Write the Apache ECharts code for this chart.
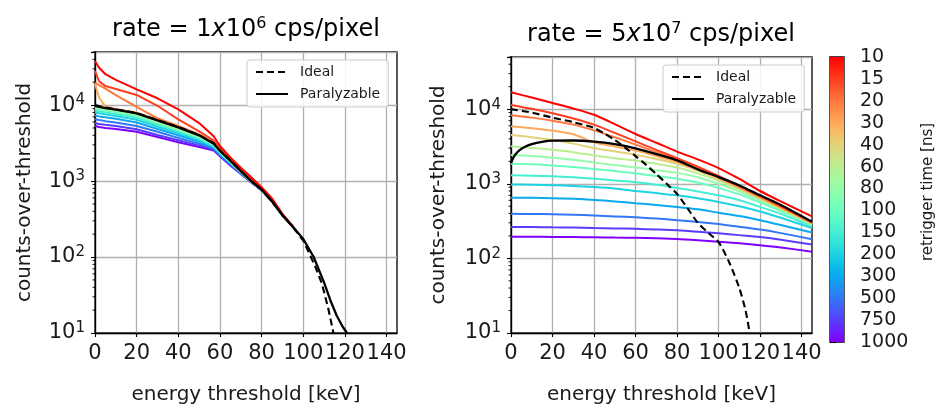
<!DOCTYPE html>
<html><head><meta charset="utf-8">
<script src="https://cdn.jsdelivr.net/npm/echarts@6/dist/echarts.min.js"></script>
<style>html,body{margin:0;padding:0;background:#fff}#c{width:936px;height:410px}</style>
</head><body><div id="c"></div>
<script>
// ---------------- data ----------------
const retriggerTimes = [10, 15, 20, 30, 40, 60, 80, 100, 150, 200, 300, 500, 750, 1000]; // ns, colorbar labels
const xTicks = [0, 20, 40, 60, 80, 100, 120, 140];
const yTickExps = [1, 2, 3, 4];

// rate = 1x10^6 cps/pixel
const energyLow = [0, 2, 5, 10, 20, 30, 40, 50, 57, 60, 65, 70, 75, 80, 85, 90, 95];
const low10   = [37800,31000,25500,21500,16100,12300,8800,5800,3900,2900,2050,1500,1120,830,590,370,255];
const low15   = [28000,20500,17800,16300,13600,9800,6500,4500,3400,2700,1950,1420,1050,800,560,362,252];
const low20   = [19600,18300,16500,13500,9500,6700,5300,4100,3200,2560,1880,1370,1010,775,545,357,250];
const low30   = [19000,12500,9600,8900,7950,6400,5150,4050,3150,2530,1860,1360,1005,772,542,356,250];
const low40   = [9900,9600,9200,8750,7850,6300,5100,4000,3120,2510,1850,1350,1000,770,540,355,250];
const low60   = [9600,9350,9000,8600,7700,6200,5000,3950,3100,2480,1840,1345,998,770,540,355,250];
const low80   = [9300,9050,8750,8350,7450,6000,4850,3850,3050,2450,1820,1340,995,770,540,355,250];
const low100  = [9000,8750,8450,8100,7200,5800,4700,3750,3000,2420,1800,1330,990,768,540,355,250];
const low150  = [8500,8300,8000,7650,6800,5500,4500,3600,2920,2380,1770,1315,985,766,540,355,250];
const low200  = [8000,7800,7550,7200,6400,5200,4300,3450,2850,2330,1740,1300,980,765,540,355,250];
const low300  = [7300,7100,6900,6600,5900,4850,4000,3300,2770,2270,1710,1285,975,763,540,355,250];
const low500  = [6500,6350,6150,5900,5300,4450,3700,3100,2680,2210,1670,1270,970,760,540,355,250];
const low750  = [5800,5650,5500,5300,4800,4050,3450,2950,2600,2160,1630,1255,965,758,540,355,250];
const low1000 = [5300,5150,5000,4850,4450,3800,3250,2800,2520,2120,1600,1240,960,755,540,355,250];
const lowIdealX = [0,2,5,10,20,30,40,50,57,60,65,70,75,80,85,90,95,100,103,106,109,112,114.5];
const lowIdeal  = [10000,9700,9300,8800,7900,6350,5150,4050,3150,2530,1860,1355,1000,770,540,355,248,165,110,72,44,21,10];
const lowParX = [0,2,5,10,20,30,40,50,57,60,65,70,75,80,85,90,95,100,105,110,113,116,119,121];
const lowPar  = [9800,9500,9100,8700,7800,6300,5100,4000,3100,2500,1850,1350,1000,770,540,355,250,173,100,46,27,17,12,10];

// rate = 5x10^7 cps/pixel
const energyHigh = [0, 10, 20, 30, 40, 50, 60, 70, 80, 90, 100, 110, 120, 130, 145];
const high10   = [16800,14300,12100,10200,8400,6300,4650,3550,2700,2120,1620,1160,800,580,365];
const high15   = [11400,10100,8800,7500,6200,4800,3700,2850,2200,1700,1270,940,690,500,305];
const high20   = [8300,7700,7000,6200,5200,4200,3350,2650,2100,1620,1230,910,670,490,300];
const high30   = [5900,5550,5150,4600,3600,3150,2780,2350,1950,1540,1190,890,655,480,297];
const high40   = [4500,4200,3850,3450,3000,2720,2450,2150,1850,1500,1160,870,645,472,295];
const high60   = [3180,3020,2850,2650,2400,2200,2050,1850,1650,1380,1100,840,625,462,290];
const high80   = [2430,2350,2240,2100,1920,1780,1650,1520,1400,1220,1000,790,600,450,285];
const high100  = [1860,1820,1760,1680,1580,1480,1380,1270,1170,1040,880,720,560,430,278];
const high150  = [1300,1285,1260,1220,1170,1110,1050,970,880,790,700,600,490,395,268];
const high200  = [980,970,955,935,905,865,800,750,700,640,570,500,425,350,255];
const high300  = [652,648,640,628,608,580,548,520,490,455,410,370,325,280,222];
const high500  = [395,394,391,385,375,365,355,342,325,308,288,265,243,218,181];
const high750  = [263,263,261,259,255,252,249,244,238,228,217,205,193,178,153];
const high1000 = [195,195,194,193,192,190,189,186,182,175,167,159,150,140,123];
const highIdealX = [0,10,20,30,40,45,50,55,60,65,70,75,80,85,90,95,100,105,110,113,115];
const highIdeal  = [10000,9000,7700,6700,5600,4700,3850,3050,2350,1800,1350,1000,730,470,300,220,165,90,40,20,10];
const highParX = [0,1,2,4,7,10,15,20,30,40,50,60,70,80,90,100,110,120,130,145];
const highPar  = [1900,2200,2450,2800,3150,3400,3650,3780,3800,3680,3400,2980,2500,2060,1560,1230,950,700,520,310];

const lowSets  = [low10,low15,low20,low30,low40,low60,low80,low100,low150,low200,low300,low500,low750,low1000];
const highSets = [high10,high15,high20,high30,high40,high60,high80,high100,high150,high200,high300,high500,high750,high1000];

// ---------------- styling helpers ----------------
const FF = 'DejaVu Sans';
const TXT = '#1a1a1a';
function rainbow(t) {
  const r = Math.min(1, Math.abs(2 * t - 0.5));
  const g = Math.max(0, Math.sin(Math.PI * t));
  const b = Math.max(0, Math.cos(Math.PI * t / 2));
  return 'rgb(' + Math.round(r * 255) + ',' + Math.round(g * 255) + ',' + Math.round(b * 255) + ')';
}
function lineColor(i) { return rainbow(1 - i / (retriggerTimes.length - 1)); }

const minorVals = [];
[10, 100, 1000, 10000].forEach(d => { for (let m = 2; m <= 9; m++) { if (m * d <= 50000) minorVals.push(m * d); } });

const gridDefs = [
  { left: 95, top: 52, width: 302, height: 287 },
  { left: 511, top: 57, width: 301, height: 285 },
  { left: 830, top: 57, width: 14, height: 285 }
];

function xAxisFor(idx) {
  return {
    type: 'value', gridIndex: idx, min: 0, max: 145, interval: 20,
    name: 'energy threshold [keV]', nameLocation: 'middle', nameGap: 52,
    nameTextStyle: { fontSize: 20, color: TXT, fontFamily: FF },
    axisLine: { show: true, lineStyle: { color: '#000', width: 1.3 } },
    axisTick: { show: true, inside: false, length: 4, lineStyle: { color: '#000', width: 1.1 }, customValues: xTicks },
    axisLabel: { show: true, margin: 10, fontSize: 21, color: TXT, fontFamily: FF, customValues: xTicks,
      formatter: v => (xTicks.indexOf(v) >= 0 ? String(v) : '') },
    splitLine: { show: true, lineStyle: { color: '#b0b0b0', width: 1.3 } }
  };
}
function yAxisFor(idx, gap) {
  return {
    type: 'log', logBase: 10, gridIndex: idx, min: 10, max: 50000,
    name: 'counts-over-threshold', nameLocation: 'middle', nameRotate: 90, nameGap: gap,
    nameTextStyle: { fontSize: 20, color: TXT, fontFamily: FF },
    axisLine: { show: true, lineStyle: { color: '#000', width: 1.3 } },
    axisTick: { show: true, inside: false, length: 4, lineStyle: { color: '#000', width: 1.1 } },
    axisLabel: {
      show: true, margin: 10, fontFamily: FF, color: TXT,
      formatter: function (v) {
        const l = Math.log10(v), e = Math.round(l);
        if (Math.abs(l - e) > 1e-6 || yTickExps.indexOf(e) < 0) return '';
        return '{b|10}{s|' + e + '}';
      },
      rich: { b: { fontSize: 21, fontFamily: FF, color: TXT }, s: { fontSize: 15, fontFamily: FF, color: TXT, padding: [0, 0, 9, 0] } }
    },
    splitLine: { show: true, lineStyle: { color: '#b0b0b0', width: 1.3 } },
    minorTick: { show: false }
  };
}

const series = [];
function addPlot(gi, xs, sets, idealX, ideal, parX, par, smooth) {
  sets.forEach((arr, i) => {
    series.push({
      type: 'line', name: 'r' + retriggerTimes[i], xAxisIndex: gi, yAxisIndex: gi,
      data: xs.map((x, j) => [x, arr[j]]), symbol: 'none', smooth: smooth, silent: true,
      lineStyle: { color: lineColor(i), width: 2 }, z: 2 + (sets.length - i) * 0.01
    });
  });
  series.push({
    type: 'line', name: 'Ideal', xAxisIndex: gi, yAxisIndex: gi,
    data: idealX.map((x, j) => [x, ideal[j]]), symbol: 'none', smooth: smooth, silent: true,
    itemStyle: { color: '#000' },
    lineStyle: { color: '#000', width: 2.1, type: [7, 4] }, z: 4
  });
  series.push({
    type: 'line', name: 'Paralyzable', xAxisIndex: gi, yAxisIndex: gi,
    data: parX.map((x, j) => [x, par[j]]), symbol: 'none', smooth: smooth, silent: true,
    itemStyle: { color: '#000' },
    lineStyle: { color: '#000', width: 2.3 }, z: 5
  });
  series.push({
    type: 'custom', xAxisIndex: gi, yAxisIndex: gi, silent: true, z: 6,
    data: minorVals.map(v => [0, v]),
    renderItem: function (params, api) {
      const p = api.coord([api.value(0), api.value(1)]);
      return { type: 'line', shape: { x1: p[0] - 2.5, y1: p[1], x2: p[0], y2: p[1] }, style: { stroke: '#000', lineWidth: 0.9 } };
    }
  });
}
addPlot(0, energyLow, lowSets, lowIdealX, lowIdeal, lowParX, lowPar, false);
addPlot(1, energyHigh, highSets, highIdealX, highIdeal, highParX, highPar, 0.25);

// colorbar
const stops = [];
for (let k = 0; k <= 26; k++) stops.push({ offset: k / 26, color: rainbow(1 - k / 26) });
series.push({
  type: 'custom', xAxisIndex: 2, yAxisIndex: 2, silent: true, data: [[0, 0]],
  renderItem: function (params, api) {
    const p0 = api.coord([0, 0]), p1 = api.coord([1, retriggerTimes.length - 1]);
    return { type: 'rect', shape: { x: Math.min(p0[0], p1[0]), y: Math.min(p0[1], p1[1]), width: Math.abs(p1[0] - p0[0]), height: Math.abs(p1[1] - p0[1]) },
      style: { fill: new echarts.graphic.LinearGradient(0, 0, 0, 1, stops) } };
  }
});

function legendFor(left, top) {
  return {
    show: true, data: ['Ideal', 'Paralyzable'], orient: 'vertical', left: left, top: top,
    itemWidth: 32, itemHeight: 14, itemGap: 8, padding: [5, 8, 6, 8],
    backgroundColor: 'rgba(255,255,255,0.85)', borderColor: '#cccccc', borderWidth: 1, borderRadius: 3,
    itemStyle: { opacity: 0 },
    textStyle: { fontSize: 14, fontFamily: FF, color: TXT, padding: [0, 0, 0, 7] },
    selectedMode: false
  };
}

const titleRich = {
  n: { fontSize: 24, fontFamily: FF, color: TXT },
  i: { fontSize: 24, fontFamily: FF, fontStyle: 'italic', color: TXT },
  s: { fontSize: 16, fontFamily: FF, color: TXT, padding: [0, 0, 12, 0] }
};

const option = {
  animation: false,
  backgroundColor: '#fff',
  grid: gridDefs.map(g => Object.assign({ show: true, borderColor: '#000', borderWidth: 1.3, containLabel: false, backgroundColor: 'transparent' }, g)),
  xAxis: [xAxisFor(0), xAxisFor(1), { type: 'value', gridIndex: 2, min: 0, max: 1, show: false }],
  yAxis: [yAxisFor(0, 60), yAxisFor(1, 62), {
    type: 'value', gridIndex: 2, min: 0, max: retriggerTimes.length - 1, interval: 1, inverse: true, position: 'right',
    axisLine: { show: true, lineStyle: { color: '#000', width: 1.1 } },
    axisTick: { show: true, inside: false, length: 6, lineStyle: { color: '#000', width: 1.1 } },
    axisLabel: { show: true, margin: 16, fontSize: 19, color: TXT, fontFamily: FF, formatter: v => String(retriggerTimes[v]) },
    splitLine: { show: false }
  }],
  legend: [legendFor(247, 60), legendFor(663, 65)],
  graphic: [
    { type: 'text', x: 246, y: 30, style: { text: '{n|rate = 1}{i|x}{n|10}{s|6}{n| cps/pixel}', rich: titleRich, align: 'center', verticalAlign: 'middle' } },
    { type: 'text', x: 661, y: 35, style: { text: '{n|rate = 5}{i|x}{n|10}{s|7}{n| cps/pixel}', rich: titleRich, align: 'center', verticalAlign: 'middle' } },
    { type: 'text', x: 928, y: 192, rotation: Math.PI / 2, style: { text: 'retrigger time [ns]', fontSize: 15, fontFamily: FF, fill: TXT, align: 'center', verticalAlign: 'middle' } }
  ],
  series: series
};
const chart = echarts.init(document.getElementById('c'), null, { renderer: 'canvas' });
chart.setOption(option);
</script></body></html>
